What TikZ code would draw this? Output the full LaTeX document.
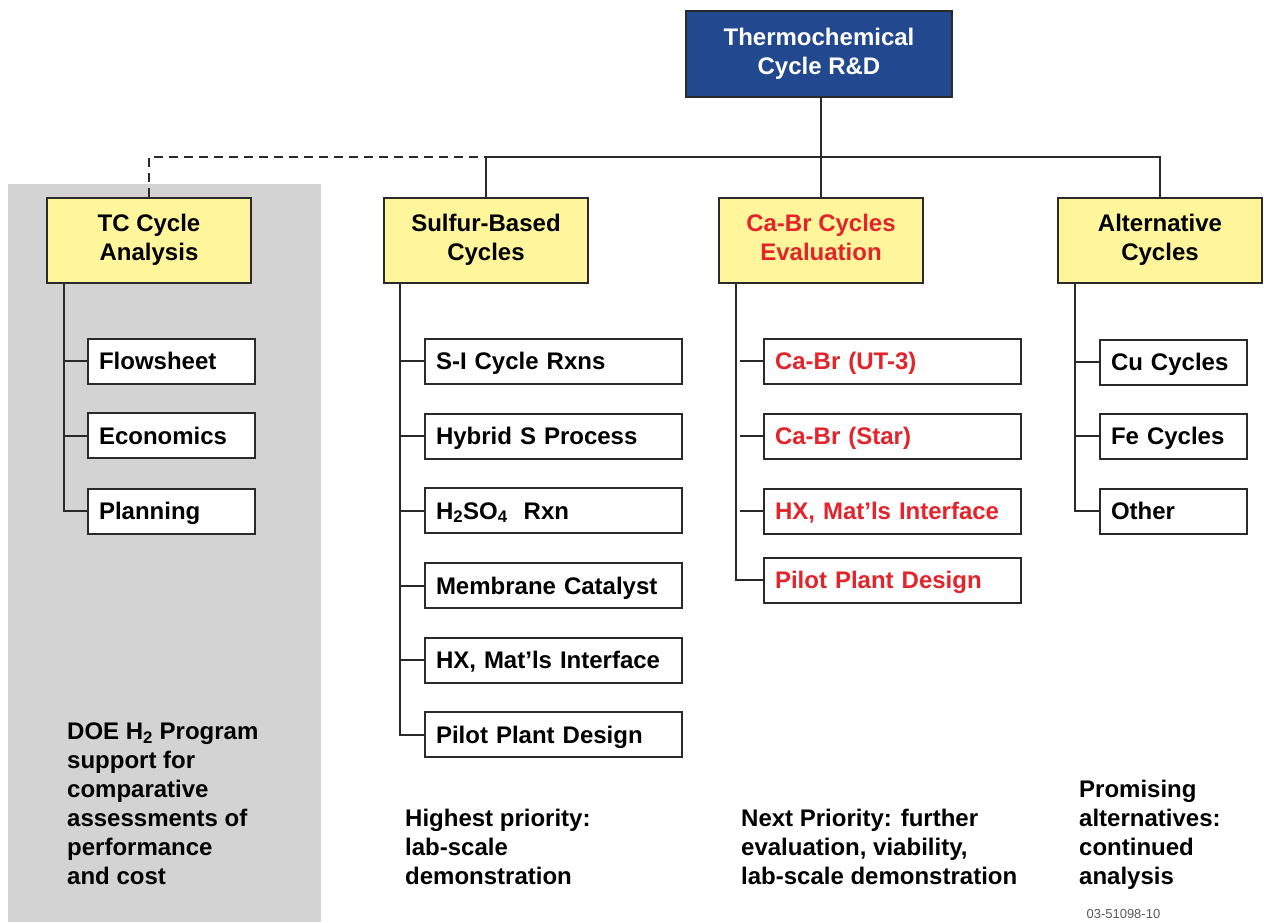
\documentclass[tikz,border=0pt]{standalone}
\usepackage{fontspec}
\setmainfont{Liberation Sans}
\definecolor{tcblue}{HTML}{22488F}
\definecolor{tcyellow}{HTML}{FFF59B}
\definecolor{tcred}{HTML}{E3242B}
\definecolor{tcgray}{HTML}{D3D3D3}
\definecolor{tcline}{HTML}{2A2A2A}
\newcommand{\apos}{\char"0027\relax}
\begin{document}
\begin{tikzpicture}[x=1pt,y=-1pt,
  every node/.style={font=\fontsize{24}{29}\selectfont\bfseries},
  topbox/.style={draw=tcline, line width=2pt, fill=tcblue, text=white, minimum width=266, minimum height=86, align=center, inner sep=0},
  headbox/.style={draw=tcline, line width=2pt, fill=tcyellow, minimum width=204, minimum height=85, align=center, inner sep=0, text depth=6},
  leaf/.style={draw=tcline, line width=2pt, fill=white, minimum height=45, anchor=west, align=left, inner xsep=11, inner ysep=0, text height=17, text depth=0},
  leafA/.style={leaf, text width=145},
  leafB/.style={leaf, text width=235},
  leafC/.style={leaf, text width=125},
  link/.style={draw=tcline, line width=2pt},
  note/.style={anchor=north west, align=left, inner sep=0},
]
\useasboundingbox (0,0) rectangle (1264,922);
\fill[tcgray] (8,184) rectangle (321,922);

% header nodes
\node[topbox] (top) at (819,54) {Thermochemical\\Cycle R\&D};
\node[headbox] (tc) at (149,240.5) {TC Cycle\\Analysis};
\node[headbox] (sb) at (486,240.5) {Sulfur-Based\\Cycles};
\node[headbox, text=tcred] (cb) at (821,240.5) {Ca-Br Cycles\\Evaluation};
\node[headbox] (alt) at (1160,240.5) {Alternative\\Cycles};

\coordinate (busL) at (486,157);
\coordinate (busR) at (1160,157);

% bus
\draw[link, dash pattern=on 9pt off 6pt] (tc.north) |- (busL);
\draw[link] (sb.north) |- (busR) -- (alt.north);
\draw[link] (cb.north |- top.south) -- (cb.north);

% TC children
\node[leafA] (tc1) at (87,361) {Flowsheet};
\node[leafA] (tc2) at (87,435.5) {Economics};
\node[leafA] (tc3) at (87,511) {Planning};
\draw[link] ([xshift=18pt]tc.south west) |- (tc3.west);
\draw[link] (tc1.west) -- ++(-22,0);
\draw[link] (tc2.west) -- ++(-22,0);

% Sulfur children
\node[leafB] (sb1) at (424,361) {S-I Cycle Rxns};
\node[leafB] (sb2) at (424,436) {Hybrid S Process};
\node[leafB] (sb3) at (424,510.5) {H\textsubscript{2}SO\textsubscript{4}\ \ Rxn};
\node[leafB] (sb4) at (424,585.5) {Membrane Catalyst};
\node[leafB] (sb5) at (424,660) {HX, Mat\apos ls Interface};
\node[leafB] (sb6) at (424,734.5) {Pilot Plant Design};
\draw[link] ([xshift=17pt]sb.south west) |- (sb6.west);
\foreach \n in {sb1,sb2,sb3,sb4,sb5} \draw[link] (\n.west) -- ++(-23,0);

% Ca-Br children
\node[leafB, text=tcred] (cb1) at (763,361) {Ca-Br (UT-3)};
\node[leafB, text=tcred] (cb2) at (763,436) {Ca-Br (Star)};
\node[leafB, text=tcred] (cb3) at (763,511) {HX, Mat\apos ls Interface};
\node[leafB, text=tcred] (cb4) at (763,580) {Pilot Plant Design};
\draw[link] ([xshift=18pt]cb.south west) |- (cb4.west);
\foreach \n in {cb1,cb2,cb3} \draw[link] (\n.west) -- ++(-23,0);

% Alternative children
\node[leafC] (al1) at (1099,362) {Cu Cycles};
\node[leafC] (al2) at (1099,436) {Fe Cycles};
\node[leafC] (al3) at (1099,511) {Other};
\draw[link] ([xshift=18pt]alt.south west) |- (al3.west);
\foreach \n in {al1,al2} \draw[link] (\n.west) -- ++(-23,0);

% notes
\node[note] (n1) at (67,722.5) {DOE H\textsubscript{2} Program\\support for\\comparative\\assessments of\\performance\\and cost};
\node[note] (n2) at (405,808.5) {Highest priority:\\lab-scale\\demonstration};
\node[note] (n3) at (741,808.5) {Next Priority: further\\evaluation, viability,\\lab-scale demonstration};
\node[note] (n4) at (1079,779.5) {Promising\\alternatives:\\continued\\analysis};
\node[anchor=base west, font=\fontsize{13}{16}\selectfont, text=black!65] (code) at (1083,918) {03-51098-10};
\end{tikzpicture}
\end{document}
